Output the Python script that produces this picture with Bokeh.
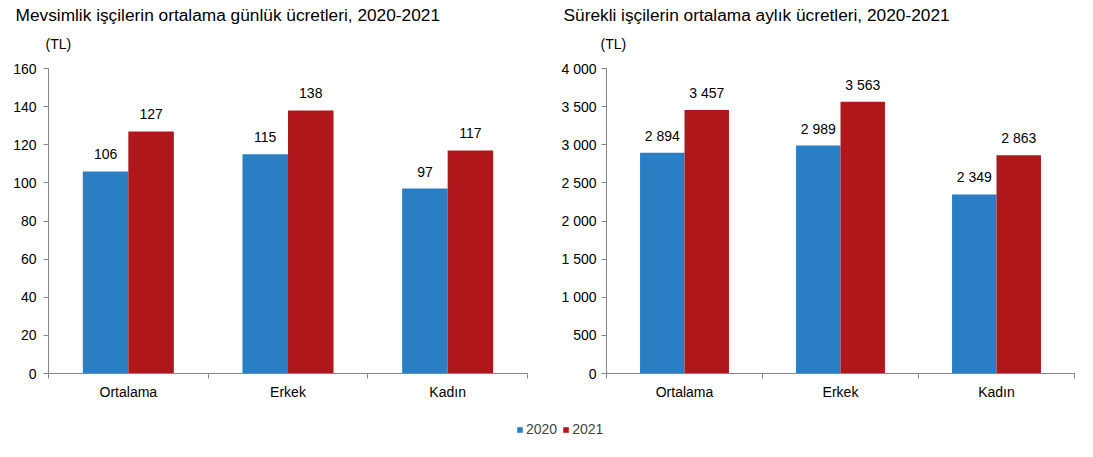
from bokeh.plotting import figure
from bokeh.models import Range1d, FixedTicker, ColumnDataSource, Label, Legend, LegendItem
from bokeh.layouts import column, row
from bokeh.embed import file_html
from bokeh.resources import INLINE
from bokeh.core.properties import value

# ---- data ----
categories = ["Ortalama", "Erkek", "Kadın"]
years = ["2020", "2021"]
daily_2020 = [106, 115, 97]
daily_2021 = [127, 138, 117]
monthly_2020 = [2894, 2989, 2349]
monthly_2021 = [3457, 3563, 2863]
daily_ticks = [0, 20, 40, 60, 80, 100, 120, 140, 160]
monthly_ticks = [0, 500, 1000, 1500, 2000, 2500, 3000, 3500, 4000]
title_daily = "Mevsimlik işçilerin ortalama günlük ücretleri, 2020-2021"
title_monthly = "Sürekli işçilerin ortalama aylık ücretleri, 2020-2021"
unit = "(TL)"

FONT = "Liberation Sans"
BLUE = "#2A7FC4"
RED = "#B0171B"
AXIS = "#868686"
BAR_W = 0.285
PAGE_W = 1093
HEAD_H = 56
FS = "14px"


def fmt(v):
    return f"{v:,}".replace(",", " ")


def make_chart(v20, v21, ticks, frame_w, bl, br, ystandoff):
    n = len(categories)
    centers = [i + 0.5 for i in range(n)]
    p = figure(frame_width=frame_w, frame_height=305,
               min_border_left=bl, min_border_right=br,
               min_border_top=12, min_border_bottom=37,
               x_range=Range1d(0, n), y_range=Range1d(ticks[0], ticks[-1]),
               output_backend="svg", toolbar_location=None,
               background_fill_color="white", border_fill_color="white")
    p.outline_line_color = None
    p.xgrid.visible = False
    p.ygrid.visible = False

    src20 = ColumnDataSource(dict(x=[c - BAR_W / 2 for c in centers], top=v20,
                                  label=[fmt(v) for v in v20]))
    src21 = ColumnDataSource(dict(x=[c + BAR_W / 2 for c in centers], top=v21,
                                  label=[fmt(v) for v in v21]))
    p.vbar(x="x", top="top", bottom=0, width=BAR_W, source=src20,
           fill_color=BLUE, line_color=None)
    p.vbar(x="x", top="top", bottom=0, width=BAR_W, source=src21,
           fill_color=RED, line_color=None)
    for s in (src20, src21):
        p.text(x="x", y="top", text="label", source=s, text_align="center",
               text_baseline="middle", y_offset=-17, text_color="black",
               text_font=value(FONT), text_font_size=FS)

    # y axis
    ya = p.yaxis[0]
    ya.ticker = FixedTicker(ticks=ticks, minor_ticks=[])
    ya.major_label_overrides = {t: fmt(t) for t in ticks}
    ya.axis_line_color = AXIS
    ya.major_tick_line_color = AXIS
    ya.major_tick_in = 0
    ya.major_tick_out = 5
    ya.major_label_standoff = ystandoff
    ya.major_label_text_font = FONT
    ya.major_label_text_font_size = FS
    ya.major_label_text_color = "black"

    # x axis
    xa = p.xaxis[0]
    xa.ticker = FixedTicker(ticks=centers, minor_ticks=list(range(n + 1)))
    xa.major_label_overrides = {c: cat for c, cat in zip(centers, categories)}
    xa.axis_line_color = AXIS
    xa.major_tick_in = 0
    xa.major_tick_out = 0
    xa.minor_tick_in = 0
    xa.minor_tick_out = 5
    xa.minor_tick_line_color = AXIS
    xa.major_label_standoff = 5
    xa.major_label_text_font = FONT
    xa.major_label_text_font_size = FS
    xa.major_label_text_color = "black"
    return p


def blank(height):
    f = figure(width=PAGE_W, height=height, min_border=0,
               x_range=Range1d(0, PAGE_W), y_range=Range1d(height, 0),
               output_backend="svg", toolbar_location=None,
               x_axis_location=None, y_axis_location=None)
    f.outline_line_color = None
    f.xgrid.visible = False
    f.ygrid.visible = False
    return f


# header with titles and units
head = blank(HEAD_H)
for tx, ux, txt in ((15, 45, title_daily), (563, 600, title_monthly)):
    head.add_layout(Label(x=tx, y=14, text=txt, text_align="left", text_baseline="middle",
                          text_color="black", text_font=FONT, text_font_size="17.3px"))
    head.add_layout(Label(x=ux, y=43, text=unit, text_align="left", text_baseline="middle",
                          text_color="black", text_font=FONT, text_font_size=FS))

p1 = make_chart(daily_2020, daily_2021, daily_ticks, 479, 48, 31, 7)
p2 = make_chart(monthly_2020, monthly_2021, monthly_ticks, 468, 47, 20, 5)

# legend strip
p3 = figure(width=PAGE_W, height=47, min_border=0, x_range=Range1d(-100, -99),
            y_range=Range1d(-1000, -999),
            output_backend="svg", toolbar_location=None,
            x_axis_location=None, y_axis_location=None)
p3.outline_line_color = None
p3.xgrid.visible = False
p3.ygrid.visible = False
r20 = p3.vbar(x=list(range(len(categories))), top=daily_2020, bottom=0, width=0.1,
              fill_color=BLUE, line_color=None)
r21 = p3.vbar(x=list(range(len(categories))), top=daily_2021, bottom=0, width=0.1,
              fill_color=RED, line_color=None)
leg = Legend(items=[LegendItem(label=years[0], renderers=[r20]),
                    LegendItem(label=years[1], renderers=[r21])],
             orientation="horizontal", location=(516, 20),
             padding=0, margin=0, spacing=5, label_standoff=3,
             glyph_width=7, glyph_height=7, label_height=14,
             label_text_font=FONT, label_text_font_size=FS,
             border_line_color=None, background_fill_alpha=0)
p3.add_layout(leg, "center")

layout = column(head, row(p1, p2), p3)
open("out.html", "w").write(file_html(layout, INLINE))
